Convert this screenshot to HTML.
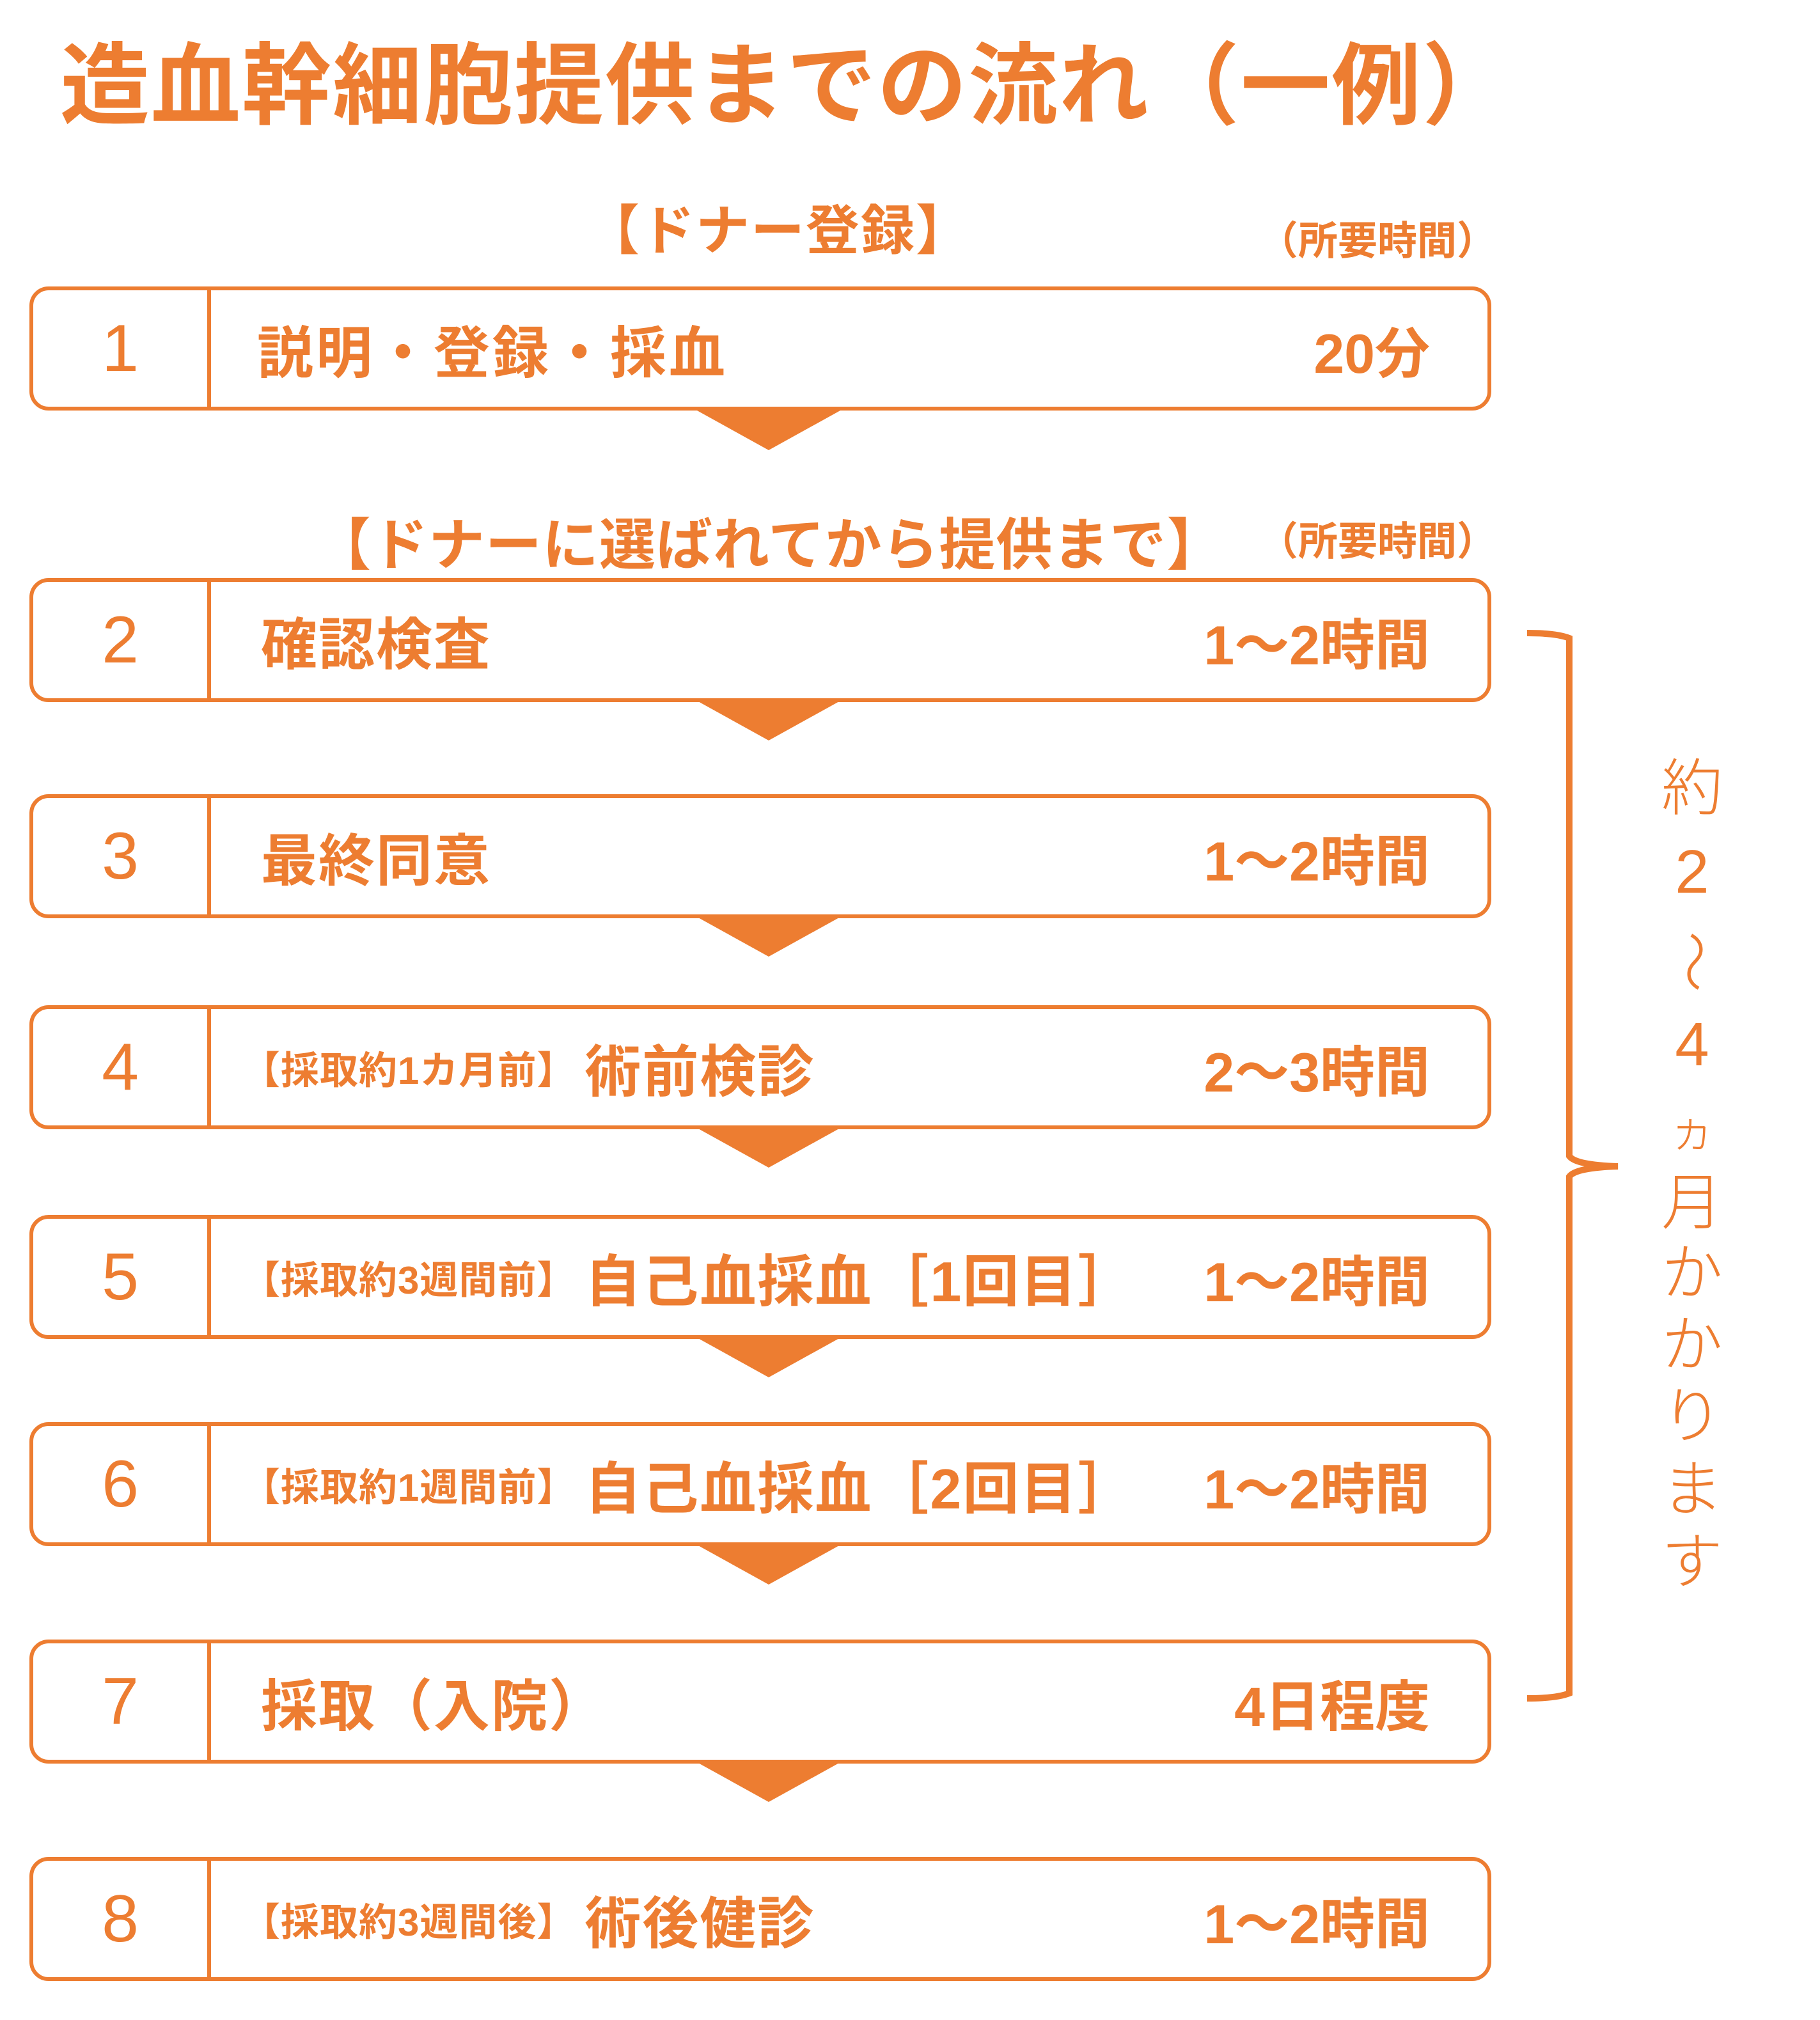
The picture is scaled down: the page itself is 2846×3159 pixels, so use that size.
<!DOCTYPE html>
<html><head><meta charset="utf-8"><style>
html,body{margin:0;padding:0;background:#fff;}
body{width:2846px;height:3159px;position:relative;overflow:hidden;font-family:"Liberation Sans","Noto Sans CJK JP",sans-serif;color:#ED7D31;}
.a{position:absolute;white-space:nowrap;}
.box{position:absolute;left:46px;width:2274px;height:182px;border:6px solid #ED7D31;border-radius:30px;box-sizing:content-box;}
.box .div{position:absolute;left:272px;top:0;bottom:0;width:6px;background:#ED7D31;}
.num{position:absolute;left:0;width:272px;top:0;height:182px;display:flex;align-items:center;justify-content:center;font-size:104px;font-weight:400;}
.lab{position:absolute;left:350px;top:0;height:182px;display:flex;align-items:center;font-size:88px;font-weight:700;letter-spacing:2px;}
.lab small{font-size:60px;font-weight:700;margin-right:14px;letter-spacing:1px;}
.tm{position:absolute;right:90px;top:0;height:182px;display:flex;align-items:center;font-size:86px;font-weight:700;}
.tri{position:absolute;left:1090px;width:0;height:0;border-left:112px solid transparent;border-right:112px solid transparent;border-top:62px solid #ED7D31;}
.v{position:absolute;left:2576px;width:100px;text-align:center;font-size:96px;font-weight:300;line-height:1;}
</style></head><body>
<div class="a" style="left:94px;top:22px;font-size:140px;font-weight:700;letter-spacing:2px;">造血幹細胞提供までの流れ（一例）</div>
<div class="a" style="left:916px;top:294px;font-size:84px;font-weight:700;letter-spacing:2px;">【ドナー登録】</div>
<div class="a" style="left:1968px;top:326px;font-size:62px;font-weight:700;">（所要時間）</div>
<div class="a" style="left:492px;top:782px;font-size:88px;font-weight:700;letter-spacing:1px;">【ドナーに選ばれてから提供まで】</div>
<div class="a" style="left:1968px;top:796px;font-size:62px;font-weight:700;">（所要時間）</div>

<div class="box" style="top:448px;"><div class="div"></div><div class="num">1</div><div class="lab" style="left:350px;letter-spacing:4px">説明・登録・採血</div><div class="tm">20分</div></div>
<div class="tri" style="top:642px;"></div>

<div class="box" style="top:904px;"><div class="div"></div><div class="num">2</div><div class="lab" style="left:356px">確認検査</div><div class="tm">1〜2時間</div></div>
<div class="tri" style="top:1096px;"></div>

<div class="box" style="top:1242px;"><div class="div"></div><div class="num">3</div><div class="lab" style="left:356px">最終同意</div><div class="tm">1〜2時間</div></div>
<div class="tri" style="top:1434px;"></div>

<div class="box" style="top:1572px;"><div class="div"></div><div class="num">4</div><div class="lab" style="left:326px"><small>【採取約1カ月前】</small>術前検診</div><div class="tm">2〜3時間</div></div>
<div class="tri" style="top:1764px;"></div>

<div class="box" style="top:1900px;"><div class="div"></div><div class="num">5</div><div class="lab" style="left:326px"><small>【採取約3週間前】</small>自己血採血［1回目］</div><div class="tm">1〜2時間</div></div>
<div class="tri" style="top:2092px;"></div>

<div class="box" style="top:2224px;"><div class="div"></div><div class="num">6</div><div class="lab" style="left:326px"><small>【採取約1週間前】</small>自己血採血［2回目］</div><div class="tm">1〜2時間</div></div>
<div class="tri" style="top:2416px;"></div>

<div class="box" style="top:2564px;"><div class="div"></div><div class="num">7</div><div class="lab" style="left:356px">採取（入院）</div><div class="tm">4日程度</div></div>
<div class="tri" style="top:2756px;"></div>

<div class="box" style="top:2904px;"><div class="div"></div><div class="num">8</div><div class="lab" style="left:326px"><small>【採取約3週間後】</small>術後健診</div><div class="tm">1〜2時間</div></div>

<svg class="a" style="left:0;top:0" width="2846" height="3159">
<path d="M2374 990 Q2420 990 2440 998 L2440 1808 Q2450 1822 2516 1824 Q2450 1826 2440 1840 L2440 2648 Q2420 2656 2374 2656" fill="none" stroke="#ED7D31" stroke-width="10" transform="translate(14,0)"/>
</svg>
<div class="v" style="left:2596px;top:1186px;">約</div>
<div class="v" style="left:2596px;top:1316px;">2</div>
<div class="v" style="left:2596px;top:1456px;transform:rotate(90deg);">〜</div>
<div class="v" style="left:2596px;top:1586px;">4</div>
<div class="v" style="left:2596px;top:1734px;font-size:72px;">ヵ</div>
<div class="v" style="left:2596px;top:1834px;">月</div>
<div class="v" style="left:2596px;top:1944px;">か</div>
<div class="v" style="left:2596px;top:2056px;">か</div>
<div class="v" style="left:2596px;top:2168px;">り</div>
<div class="v" style="left:2596px;top:2282px;">ま</div>
<div class="v" style="left:2596px;top:2396px;">す</div>
</body></html>
